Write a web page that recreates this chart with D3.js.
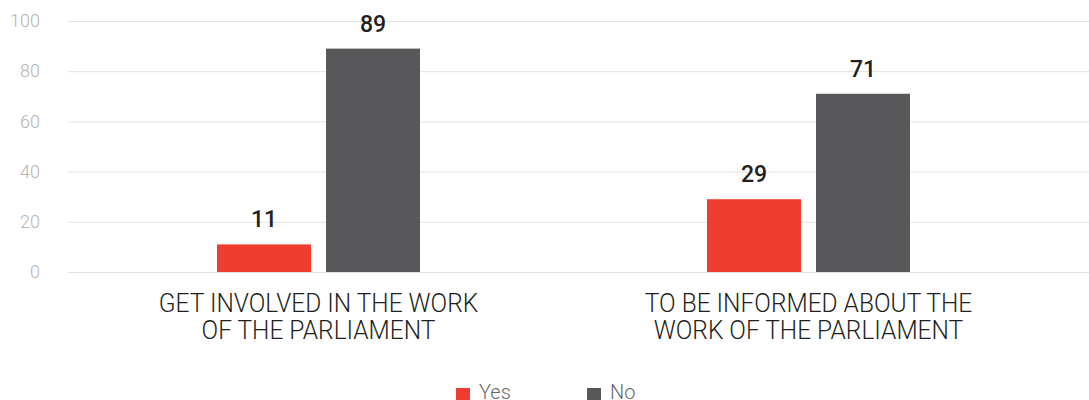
<!DOCTYPE html>
<html><head><meta charset="utf-8">
<script src="https://cdn.jsdelivr.net/npm/d3@7"></script>
<style>body{margin:0;background:#fff;font-family:Roboto,sans-serif}</style>
</head><body>
<svg id="c" width="1089" height="400"></svg>
<script>
const categories = [["GET INVOLVED IN THE WORK","OF THE PARLIAMENT"],["TO BE INFORMED ABOUT THE","WORK OF THE PARLIAMENT"]];
const series = ["Yes","No"];
const yesValues = [11, 29];
const noValues = [89, 71];
const yTicks = [0, 20, 40, 60, 80, 100];
const colors = ["#ef3e2f", "#58585a"];

const svg = d3.select("#c");
const y = d3.scaleLinear().domain([0,100]).range([272,21]);
const x0 = d3.scaleBand().domain(d3.range(categories.length)).range([73.5,1053.5]).padding(0);
const x1 = d3.scaleBand().domain(series).range([0,203]).paddingInner(0.138);

// grid
const grid = svg.append("g").attr("transform","translate(68,0)")
  .call(d3.axisLeft(y).tickValues(yTicks).tickSize(-1021).tickFormat(d=>d).tickPadding(10));
grid.select(".domain").remove();
grid.selectAll(".tick line").attr("stroke","#e3e3e3").attr("stroke-width",1);
grid.selectAll(".tick text").attr("fill","#b5b5b5").style("font-family","Roboto").style("font-size","18px").style("font-weight",300).attr("x",-28);

const data = categories.map((c,i)=>({i, vals:[{s:"Yes",v:yesValues[i]},{s:"No",v:noValues[i]}]}));
const g = svg.selectAll(".grp").data(data).enter().append("g")
  .attr("transform",d=>`translate(${x0(d.i)+(x0.bandwidth()-203)/2},0)`);
g.selectAll("rect").data(d=>d.vals).enter().append("rect")
  .attr("x",d=>x1(d.s)).attr("width",x1.bandwidth())
  .attr("y",d=>y(d.v)).attr("height",d=>y(0)-y(d.v))
  .attr("fill",(d,j)=>colors[j]);
g.selectAll("text.val").data(d=>d.vals).enter().append("text").attr("class","val")
  .attr("x",d=>x1(d.s)+x1.bandwidth()/2).attr("y",d=>y(d.v)-17)
  .attr("text-anchor","middle").attr("fill","#231f20")
  .style("font-size","23px").style("font-weight",500).text(d=>d.v);

// category labels
const cl = svg.selectAll(".cat").data(categories).enter().append("text")
  .attr("text-anchor","middle").attr("fill","#231f20")
  .style("font-size","25px").style("font-weight",300)
  .attr("transform",(d,i)=>`translate(${x0(i)+x0.bandwidth()/2},0) scale(0.98,1)`);
cl.selectAll("tspan").data(d=>d).enter().append("tspan")
  .attr("x",0).attr("y",(d,j)=>312+j*27).text(d=>d);

// legend
const leg = svg.append("g");
const li = leg.selectAll("g").data(series).enter().append("g")
  .attr("transform",(d,i)=>`translate(${456+i*131},388)`);
li.append("rect").attr("width",14).attr("height",14).attr("fill",(d,i)=>colors[i]);
li.append("text").attr("x",23).attr("y",11).attr("fill","#666")
  .style("font-size","20px").style("font-weight",300).text(d=>d);
</script>
</body></html>
